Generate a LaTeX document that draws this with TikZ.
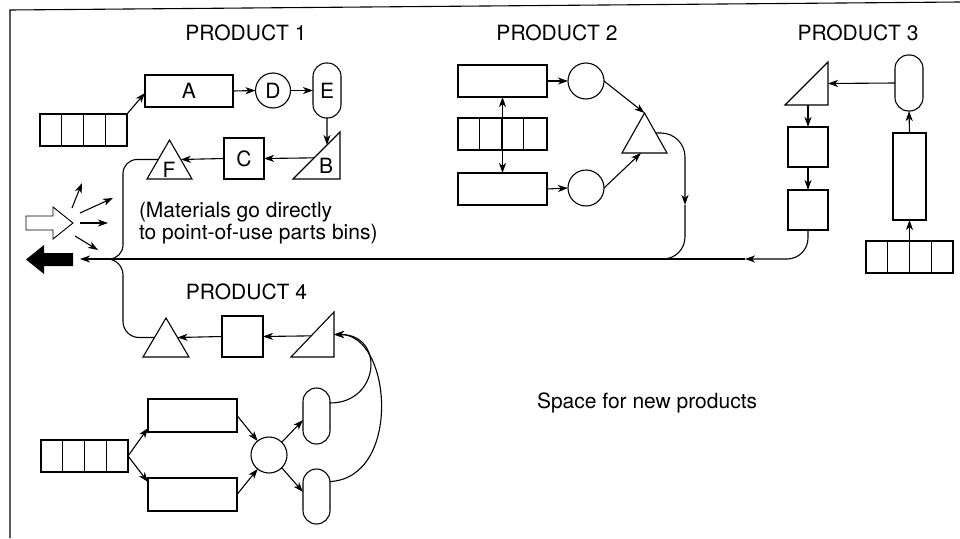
\documentclass[tikz,border=0pt]{standalone}
\usepackage{fontspec}
\setmainfont{TeX Gyre Heros}
\usetikzlibrary{arrows.meta,calc}
\begin{document}
\begin{tikzpicture}[x=1pt,y=-1pt,line width=1.1pt,
  every node/.style={inner sep=0pt,outer sep=0pt,font=\fontsize{21}{22.5}\selectfont},
  arr/.style={-{Stealth[length=10pt,width=7pt,inset=2.8pt]}},
  dblarr/.style={{Stealth[length=10pt,width=7pt,inset=2.8pt]}-{Stealth[length=10pt,width=7pt,inset=2.8pt]}},
  box/.style={draw,rectangle},
  rack/.style={draw,rectangle,minimum width=87pt,minimum height=32pt,
    path picture={\foreach \k in {1,2,3}{\draw ([xshift=\k*21.75pt]path picture bounding box.north west) -- ([xshift=\k*21.75pt]path picture bounding box.south west);}}},
  pill/.style={draw,rectangle,rounded corners=13.5pt,minimum width=28pt,minimum height=55pt},
  ring/.style={draw,circle,minimum size=36pt},
  tribox/.style={rectangle},
  title/.style={anchor=center}]
\useasboundingbox (0,0) rectangle (960,538);
% frame
\draw (10,538) -- (10,10) -- (960,2);

% titles
\node[title] (t1) at (246,32.5) {PRODUCT 1};
\node[title] (t2) at (557,32.5) {PRODUCT 2};
\node[title] (t3) at (858,32.5) {PRODUCT 3};
\node[title] (t4) at (246.5,292) {PRODUCT 4};
\node[anchor=base west] (space) at (537,408) {Space for new products};
\node[anchor=north west,align=left] (note) at (139,202) {(Materials go directly\\to point-of-use parts bins)};

% ---------- PRODUCT 1
\node[rack] (rk1) at (83.5,130) {};
\node[box,minimum width=88pt,minimum height=32pt] (A) at (189,91) {A};
\node[draw,circle,minimum size=35pt] (D) at (273,90.5) {D};
\node[pill] (E) at (327,90.5) {E};
\node[tribox,minimum width=47pt,minimum height=47pt] (B) at (316.5,155.5) {};
\draw (B.south west) -- (B.north east) -- (B.south east) -- cycle;
\node (Bl) at (326,165.5) {B};
\node[box,minimum width=40pt,minimum height=41pt] (C) at (244,158.5) {C};
\node[tribox,minimum width=45pt,minimum height=39pt] (F) at (169.5,159.5) {};
\draw (F.south west) -- (F.north) -- (F.south east) -- cycle;
\node (Fl) at (169,169.5) {F};
\draw[arr] (rk1.north east) -- ([yshift=-2pt]A.west);
\draw[arr] (A.east) -- (D.west);
\draw[arr] (D.east) -- (E.west);
\draw[arr] (E.south) -- ($(B.south west)!0.723!(B.north east)$);
\draw[arr] ($(B.south west)!0.45!(B.north east)$) -- (C.east);
\draw[arr] (C.west) -- ($(F.north)!0.5!(F.south east)$);
\coordinate (jn) at (123,259);
\coordinate (jw) at (98,259);
\coordinate (tipL) at (80,259);
\draw[rounded corners=14pt] ($(F.north)!0.5!(F.south west)$) -| (jn) -- (jw);

% ---------- PRODUCT 2
\node[box,minimum width=89pt,minimum height=32pt] (R2a) at (502.5,81) {};
\node[rack,minimum width=89pt] (rk2) at (502.5,134) {};
\node[box,minimum width=89pt,minimum height=32pt] (R2b) at (502.5,189) {};
\node[ring] (C2a) at (586,81) {};
\node[ring] (C2b) at (586,188) {};
\node[tribox,minimum width=45pt,minimum height=40pt] (T2) at (644.5,133) {};
\draw (T2.south west) -- (T2.north) -- (T2.south east) -- cycle;
\draw[dblarr] (R2a.south) -- (R2b.north);
\draw[arr] (R2a.east) -- (C2a.west);
\draw[arr] (R2b.east) -- (C2b.west);
\draw[arr] (C2a.east) -- (T2.north);
\draw[arr] (C2b.east) -- ($(T2.south west)!0.42!(T2.south east)$);
\coordinate (m2) at (685,205);
\coordinate (j2) at (640,259);
\draw[arr,rounded corners=24pt] ($(T2.north)!0.5!(T2.south east)$) -| (m2);
\draw[rounded corners=22pt] (m2) |- (j2);

% ---------- PRODUCT 3
\node[tribox,minimum width=43pt,minimum height=43pt] (T3) at (806.5,83.5) {};
\draw (T3.south west) -- (T3.north east) -- (T3.south east) -- cycle;
\node[pill,minimum height=56pt] (P3) at (909,83) {};
\node[box,minimum width=33pt,minimum height=87pt] (R3) at (909.5,176.5) {};
\node[rack] (rk3) at (909.5,257) {};
\node[box,minimum width=40pt,minimum height=40pt] (S3a) at (808,147) {};
\node[box,minimum width=40pt,minimum height=40pt] (S3b) at (808,210) {};
\draw[arr] (P3.west) -- (T3.east);
\draw[arr] (rk3.north) -- (R3.south);
\draw[arr] (R3.north) -- (P3.south);
\draw[arr] (S3a.north |- T3.south) -- (S3a.north);
\draw[arr] (S3a.south) -- (S3b.north);
\coordinate (m3) at (745,259);
\draw[arr,rounded corners=21pt] (S3b.south) |- (m3);
\draw[arr] (m3) -- (tipL);

% ---------- PRODUCT 4
\node[tribox,minimum width=46pt,minimum height=39pt] (T4a) at (166,337.5) {};
\draw (T4a.south west) -- (T4a.north) -- (T4a.south east) -- cycle;
\node[box,minimum width=41pt,minimum height=41pt] (S4) at (242.5,336.5) {};
\node[tribox,minimum width=43pt,minimum height=45pt] (T4b) at (312.5,334.5) {};
\draw (T4b.south west) -- (T4b.north east) -- (T4b.south east) -- cycle;
\node[pill,minimum width=27pt,minimum height=56pt] (P4a) at (316.5,416) {};
\node[pill,minimum width=27pt,minimum height=55pt] (P4b) at (316.5,496.5) {};
\node[ring] (C4) at (269,455) {};
\node[box,minimum width=89pt,minimum height=33pt] (R4a) at (192.5,415.5) {};
\node[box,minimum width=89pt,minimum height=33pt] (R4b) at (192.5,494.5) {};
\node[rack] (rk4) at (84.5,456) {};
\draw[arr] (rk4.east) -- ([yshift=-12.5pt]R4a.west);
\draw[arr] (rk4.east) -- ([yshift=12.5pt]R4b.west);
\draw[arr] (R4a.east) -- (C4);
\draw[arr] (R4b.east) -- (C4);
\draw[arr] (C4.45) -- ([yshift=-4pt]P4a.west);
\draw[arr] (C4.-45) -- ([yshift=4.5pt]P4b.west);
\draw[arr] ([yshift=13pt]P4a.east) .. controls (380,403) and (385,334.5) .. (T4b.east);
\draw[arr] ([yshift=15pt]P4b.east) .. controls (402,478) and (392,334.5) .. (T4b.east);
\draw[arr] ($(T4b.south west)!0.47!(T4b.north east)$) -- (S4.east);
\draw[arr] (S4.west) -- ($(T4a.north)!0.5!(T4a.south east)$);
\coordinate (jw2) at (96,259);
\draw[rounded corners=16pt] (jw2) -- (jn) |- ($(T4a.north)!0.5!(T4a.south west)$);

% ---------- output arrows
\fill (73,253) -- (44,253) -- (44,245) -- (26,259.5) -- (44,274) -- (44,266) -- (73,266) -- cycle;
\draw[line width=0.9pt,line join=miter] (26,216) -- (53,216) -- (53,207) -- (73,223) -- (53,239) -- (53,230) -- (26,230) -- cycle;
\coordinate (s1a) at (72,208); \coordinate (s1b) at (82,183);
\coordinate (s2a) at (80,213); \coordinate (s2b) at (113,198);
\coordinate (s3a) at (80,223); \coordinate (s3b) at (108,223);
\coordinate (s4a) at (75,236); \coordinate (s4b) at (98,250);
\draw[arr] (s1a) -- (s1b);
\draw[arr] (s2a) -- (s2b);
\draw[arr] (s3a) -- (s3b);
\draw[arr] (s4a) -- (s4b);
\end{tikzpicture}
\end{document}
